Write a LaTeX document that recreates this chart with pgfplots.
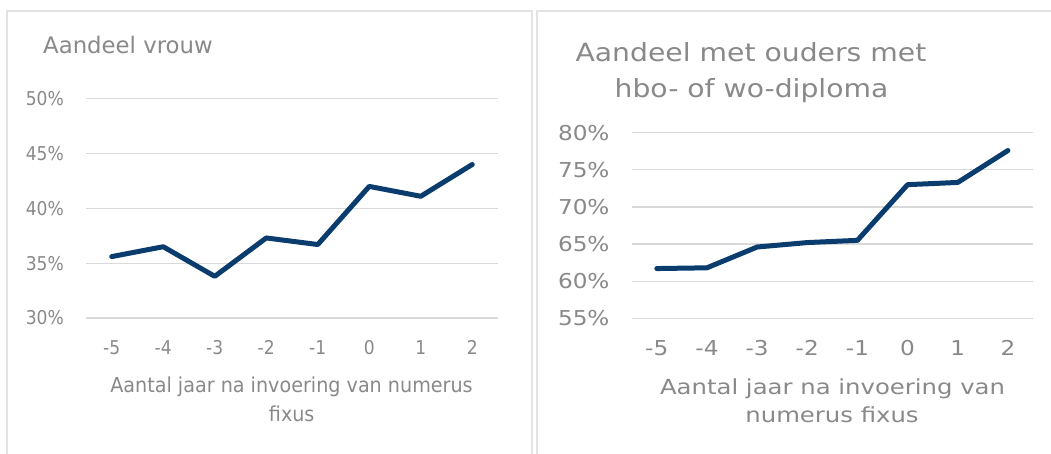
\documentclass[border=0pt]{standalone}
\usepackage{fontspec}
\setmainfont{DejaVu Sans}
\newfontfamily\lfont[FakeStretch=0.9]{DejaVu Sans}
\newfontfamily\llfont[FakeStretch=0.93]{DejaVu Sans}
\newfontfamily\rfont[FakeStretch=1.13]{DejaVu Sans}
\newfontfamily\rrfont[FakeStretch=1.17]{DejaVu Sans}
\usepackage{pgfplots}
\pgfplotsset{compat=1.18}
\definecolor{txtgray}{HTML}{898989}
\definecolor{gridgray}{HTML}{D9D9D9}
\definecolor{bordergray}{HTML}{E3E3E3}
\definecolor{navy}{HTML}{0B3C6E}
\pgfplotsset{
  common/.style={
    scale only axis, clip=false,
    xmin=-5.5, xmax=2.5,
    xtick={-5,-4,-3,-2,-1,0,1,2},
    xticklabels={-5,-4,-3,-2,-1,0,1,2},
    axis line style={draw=none},
    major tick length=0pt,
    ymajorgrids,
    grid style={color=gridgray, line width=1.3pt},
    ticklabel style={text=txtgray, inner sep=0pt},
    xticklabel style={anchor=north, yshift=-22pt},
    yticklabel style={anchor=east, xshift=-22pt},
  }
}
\begin{document}
\begin{tikzpicture}
\useasboundingbox (0,0) rectangle (1051pt,454pt);
\draw[bordergray, line width=1.2pt] (7pt,-5pt) -- (7pt,443pt) -- (532pt,443pt) -- (532pt,-5pt);
\draw[bordergray, line width=1.2pt] (537pt,-5pt) -- (537pt,443pt) -- (1060pt,443pt);

\begin{axis}[common,
  at={(86pt,136pt)}, anchor=south west,
  width=412pt, height=219.3pt,
  ymin=30, ymax=50, ytick={30,35,40,45,50},
  yticklabels={30\%,35\%,40\%,45\%,50\%},
  ticklabel style={font=\lfont\fontsize{19}{19}\selectfont},
]
\addplot[navy, line width=5pt, line join=round, line cap=round] coordinates {
(-5,35.6)(-4,36.5)(-3,33.8)(-2,37.3)(-1,36.7)(0,42.0)(1,41.1)(2,44.0)};
\end{axis}

\begin{axis}[common,
  at={(631.7pt,135.7pt)}, anchor=south west,
  width=401.3pt, height=185.6pt,
  ymin=55, ymax=80, ytick={55,60,65,70,75,80},
  yticklabels={55\%,60\%,65\%,70\%,75\%,80\%},
  ticklabel style={font=\rfont\fontsize{20.5}{20.5}\selectfont},
]
\addplot[navy, line width=5pt, line join=round, line cap=round] coordinates {
(-5,61.7)(-4,61.8)(-3,64.6)(-2,65.2)(-1,65.5)(0,73.0)(1,73.3)(2,77.6)};
\end{axis}

\node[anchor=base west, text=txtgray, inner sep=0pt, font=\fontsize{22.8}{28}\selectfont] at (43pt,400.7pt) {Aandeel vrouw};
\node[anchor=base, text=txtgray, inner sep=0pt, font=\rfont\fontsize{25}{30}\selectfont] at (751pt,392.3pt) {Aandeel met ouders met};
\node[anchor=base, text=txtgray, inner sep=0pt, font=\rfont\fontsize{25}{30}\selectfont] at (751.5pt,356.7pt) {hbo- of wo-diploma};

\node[anchor=base, text=txtgray, inner sep=0pt, font=\llfont\fontsize{20.6}{24}\selectfont] at (291.5pt,61pt) {Aantal jaar na invoering van numerus};
\node[anchor=base, text=txtgray, inner sep=0pt, font=\llfont\fontsize{20.6}{24}\selectfont] at (291.7pt,32.3pt) {fixus};
\node[anchor=base, text=txtgray, inner sep=0pt, font=\rrfont\fontsize{20.8}{24}\selectfont] at (832.5pt,59pt) {Aantal jaar na invoering van};
\node[anchor=base, text=txtgray, inner sep=0pt, font=\rrfont\fontsize{20.8}{24}\selectfont] at (832pt,31pt) {numerus fixus};
\end{tikzpicture}
\end{document}
